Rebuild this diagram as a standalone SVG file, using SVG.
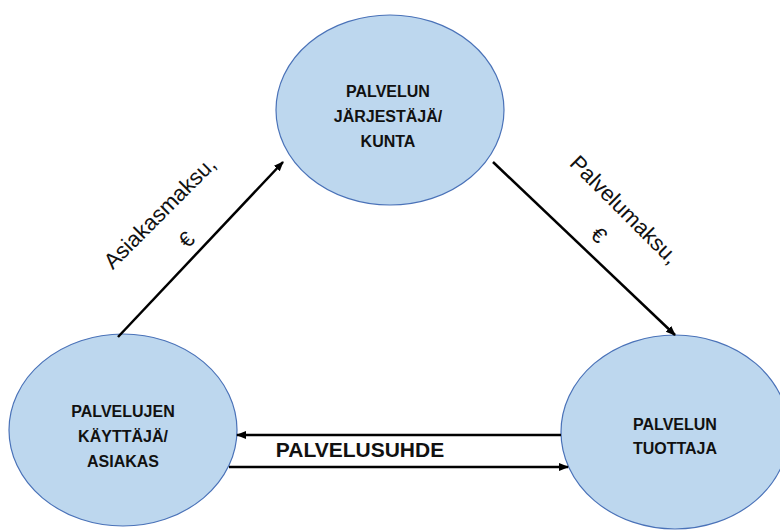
<svg xmlns="http://www.w3.org/2000/svg" width="780" height="530" viewBox="0 0 780 530">
<style>
.node{fill:#bdd7ee;stroke:#4a72b8;stroke-width:1.2}
.nt{font-family:"Liberation Sans",Arial,sans-serif;font-weight:bold;font-size:16px;fill:#111;text-anchor:middle}
.lbl{font-family:"Liberation Sans",Arial,sans-serif;font-size:22px;fill:#111;text-anchor:middle}
.conn{stroke:#000;stroke-width:2.5;fill:none;marker-end:url(#ah)}
</style>
<defs>
<marker id="ah" markerUnits="userSpaceOnUse" markerWidth="10" markerHeight="10" viewBox="0 0 10 10" refX="9" refY="5" orient="auto">
<path d="M0,1 L10,5 L0,9 Z" fill="#000"/>
</marker>
</defs>
<rect width="780" height="530" fill="#fff"/>
<g id="kunta">
<ellipse class="node" cx="390" cy="110" rx="114" ry="95"/>
<text class="nt" x="388" y="97">PALVELUN</text>
<text class="nt" x="388" y="122">JÄRJESTÄJÄ/</text>
<text class="nt" x="388" y="147">KUNTA</text>
</g>
<g id="asiakas">
<ellipse class="node" cx="123" cy="430" rx="114" ry="96"/>
<text class="nt" x="123" y="417">PALVELUJEN</text>
<text class="nt" x="123" y="442">KÄYTTÄJÄ/</text>
<text class="nt" x="123" y="467">ASIAKAS</text>
</g>
<g id="tuottaja">
<ellipse class="node" cx="675" cy="432" rx="114" ry="97"/>
<text class="nt" x="675" y="430">PALVELUN</text>
<text class="nt" x="675" y="454">TUOTTAJA</text>
</g>
<g id="connectors">
<line class="conn" x1="118" y1="337" x2="283" y2="162"/>
<line class="conn" x1="493" y1="162" x2="675" y2="335"/>
<line class="conn" x1="561" y1="435" x2="237" y2="435"/>
<line class="conn" x1="229" y1="467" x2="568" y2="467"/>
<g transform="translate(165,218) rotate(-45)">
<text class="lbl" x="0" y="0">Asiakasmaksu,</text>
<text class="lbl" x="0" y="38">€</text>
</g>
<g transform="translate(619,215) rotate(45)">
<text class="lbl" x="0" y="0">Palvelumaksu,</text>
<text class="lbl" x="0" y="36">€</text>
</g>
<text x="360" y="457" font-family="Liberation Sans,Arial,sans-serif" font-weight="bold" font-size="21" fill="#111" text-anchor="middle">PALVELUSUHDE</text>
</g>
</svg>
